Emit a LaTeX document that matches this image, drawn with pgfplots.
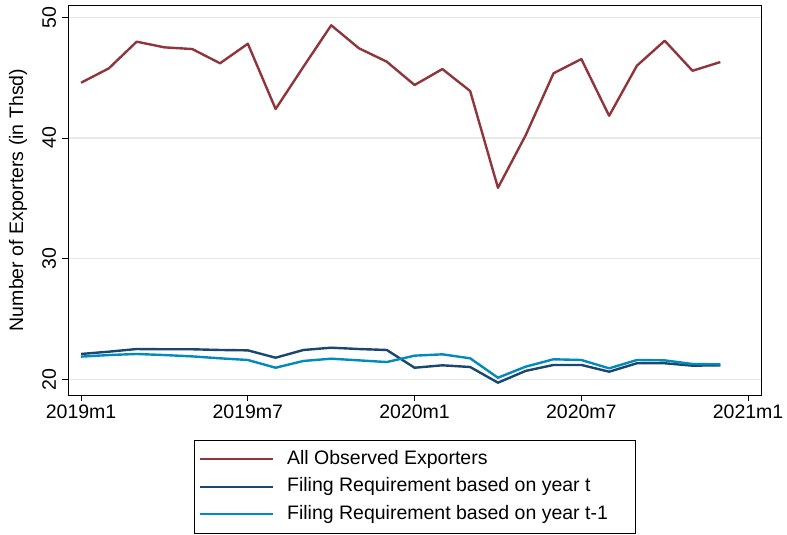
\documentclass[border=0pt]{standalone}
\usepackage{pgfplots}
\pgfplotsset{compat=1.18}
\usepackage{pgfplotstable}
\usepackage{fontspec}
\setmainfont{Liberation Sans}
\definecolor{cranberry}{RGB}{144,53,59}
\definecolor{navy}{RGB}{26,71,111}
\definecolor{ebblue}{RGB}{0,139,188}

\pgfplotstableread{
x all yeart yeartm1
0 44.58 22.10 21.88
1 45.77 22.29 22.01
2 47.98 22.51 22.10
3 47.51 22.49 22.01
4 47.37 22.49 21.90
5 46.19 22.43 21.74
6 47.81 22.40 21.60
7 42.40 21.79 20.96
8 45.90 22.43 21.52
9 49.34 22.62 21.71
10 47.43 22.51 21.57
11 46.32 22.43 21.43
12 44.39 20.96 21.96
13 45.71 21.16 22.07
14 43.89 21.02 21.74
15 35.87 19.72 20.13
16 40.24 20.70 21.05
17 45.36 21.19 21.66
18 46.54 21.19 21.60
19 41.84 20.63 20.91
20 45.99 21.33 21.60
21 48.06 21.33 21.57
22 45.57 21.13 21.27
23 46.29 21.16 21.24
}\datatable

\begin{document}
\begin{tikzpicture}[x=1pt,y=1pt]
\begin{axis}[
  at={(68.3pt,140pt)}, anchor=south west,
  scale only axis, width=693.4pt, height=390pt,
  xmin=-0.46, xmax=24.49, ymin=18.7, ymax=51.02,
  xtick={0,6,12,18,24},
  xticklabels={2019m1,2019m7,2020m1,2020m7,2021m1},
  ytick={20,30,40,50},
  ymajorgrids, grid style={gray!18, line width=1.1pt},
  tick align=outside, major tick length=6pt,
  tick style={black, line width=0.8pt},
  axis line style={black, line width=0.8pt},
  xtick pos=bottom, ytick pos=left,
  ticklabel style={font=\fontsize{19.5}{22}\selectfont},
  xticklabel style={inner ysep=4pt},
  yticklabel style={rotate=90, anchor=south, inner ysep=6pt},
  /pgf/number format/assume math mode=true,
  ylabel={Number of Exporters (in Thsd)},
  ylabel style={font=\fontsize{19.5}{22}\selectfont, at={(axis description cs:-0.0725,0.5)}, anchor=center},
  legend cell align=left,
  legend image code/.code={\draw[#1, line width=2.2pt] (0pt,0pt) -- (73pt,0pt);},
  legend style={at={(axis description cs:0.1813,-0.1154)}, anchor=north west,
    draw=black, line width=0.8pt, inner xsep=4pt, inner ysep=5pt,
    font=\fontsize{19.5}{22}\selectfont,
    nodes={inner xsep=3.5pt, inner ysep=4.75pt, text height=14pt, text depth=4pt},
    row sep=0pt, column sep=10pt},
  every axis plot/.append style={line width=2.4pt, line join=round},
]
\addplot[cranberry] table[x=x, y=all] {\datatable};
\addlegendentry{All Observed Exporters}
\addplot[navy] table[x=x, y=yeart] {\datatable};
\addlegendentry{Filing Requirement based on year t}
\addplot[ebblue] table[x=x, y=yeartm1] {\datatable};
\addlegendentry{Filing Requirement based on year t-1\hspace*{20pt}}
\end{axis}
\pgfresetboundingbox
\path[use as bounding box] (0,0) rectangle (787,535);
\end{tikzpicture}
\end{document}
